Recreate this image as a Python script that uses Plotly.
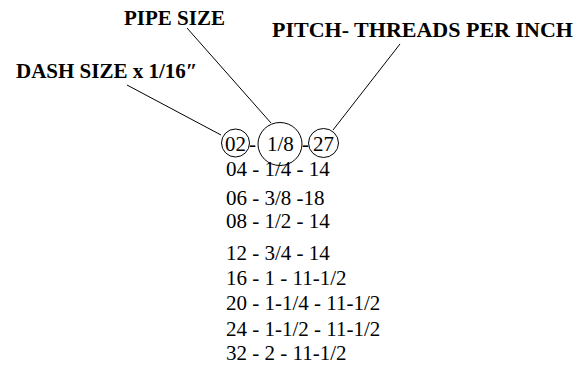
import plotly.graph_objects as go

# ---- data ----
dash_sizes = ["02", "04", "06", "08", "12", "16", "20", "24", "32"]
pipe_sizes = ["1/8", "1/4", "3/8", "1/2", "3/4", "1", "1-1/4", "1-1/2", "2"]
pitches = ["27", "14", "18", "14", "14", "11-1/2", "11-1/2", "11-1/2", "11-1/2"]
pitch_separators = [" - ", " - ", " -", " - ", " - ", " - ", " - ", " - ", " - "]
header_labels = ["DASH SIZE x 1/16\u2033", "PIPE SIZE", "PITCH- THREADS PER INCH"]

# ---- layout constants (pixel space) ----
W, H = 587, 365
ROW_Y = [145, 170, 199, 222, 254, 279, 304, 330, 354]  # digit centres
TEXT_X = 224
FONT = "Liberation Serif"
BODY = 21
HEAD_SIZES = [21, 21, 22]

fig = go.Figure()
fig.update_layout(
    width=W, height=H, margin=dict(l=0, r=0, t=0, b=0),
    paper_bgcolor="white", plot_bgcolor="white", showlegend=False,
    xaxis=dict(range=[0, W], visible=False, fixedrange=True),
    yaxis=dict(range=[H, 0], visible=False, fixedrange=True),
)

ann = []
# first row: circled parts
first_parts = [(dash_sizes[0], 235.5), ("-", 252), (pipe_sizes[0], 280), ("-", 305), (pitches[0], 323.5)]
for txt, cx in first_parts:
    ann.append(dict(x=cx, y=ROW_Y[0] - 1, text=txt, showarrow=False, xanchor="center", yanchor="middle",
                    font=dict(family=FONT, size=BODY, color="black")))
# other rows
for d, p, sep, t, y in zip(dash_sizes[1:], pipe_sizes[1:], pitch_separators[1:], pitches[1:], ROW_Y[1:]):
    ann.append(dict(x=TEXT_X, y=y - 1, text=f"{d} - {p}{sep}{t}", showarrow=False, xanchor="left", yanchor="middle",
                    font=dict(family=FONT, size=BODY, color="black")))

# headers
head_pos = [(106, 72), (174, 19), (422, 30)]
for lab, (hx, hy), fs in zip(header_labels, head_pos, HEAD_SIZES):
    ann.append(dict(x=hx, y=hy - 1, text=f"<b>{lab}</b>", showarrow=False, xanchor="center", yanchor="middle",
                    font=dict(family=FONT, size=fs, color="black")))
fig.update_layout(annotations=ann)

shapes = []
# circles
for cx, cy, rx, ry in [(235.5, 143, 14, 14), (280, 144, 22, 21.5), (323.5, 143, 15, 14.5)]:
    shapes.append(dict(type="circle", xref="x", yref="y", x0=cx - rx, x1=cx + rx, y0=cy - ry, y1=cy + ry,
                       line=dict(color="black", width=1)))
# leader lines
for x0, y0, x1, y1 in [(127, 85, 221, 135), (187, 28, 271, 123), (400, 44, 333, 130)]:
    shapes.append(dict(type="line", xref="x", yref="y", x0=x0, y0=y0, x1=x1, y1=y1,
                       line=dict(color="black", width=1)))
fig.update_layout(shapes=shapes)

fig.write_html("out.html", config={"displayModeBar": False},
               post_script="document.body.style.margin='0';document.body.style.padding='0';document.body.style.overflow='hidden';")
